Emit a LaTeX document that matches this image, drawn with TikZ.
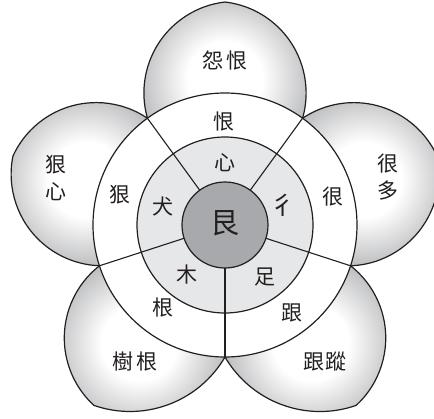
\documentclass[tikz,border=0pt]{standalone}
\usepackage{fontspec}
\newfontfamily\cjk{Noto Sans CJK TC}
\definecolor{ink}{HTML}{231F20}
\definecolor{ringgray}{HTML}{E6E7E8}
\definecolor{coregray}{HTML}{A7A9AC}
\definecolor{petaledge}{HTML}{B3B4B6}
\pgfdeclareradialshading{petalshade}{\pgfpoint{0bp}{0bp}}{color(0bp)=(white); color(10bp)=(white); color(25bp)=(petaledge); color(50bp)=(petaledge)}
\begin{document}
\begin{tikzpicture}[x=1pt,y=1pt,
  txt/.style={font=\cjk\fontsize{21}{27}\selectfont, text=ink, inner sep=0pt, align=center},
  bigtxt/.style={font=\cjk\fontsize{29}{30}\selectfont, text=ink, inner sep=0pt},
  outline/.style={draw=ink, line width=1.2pt},
  divider/.style={draw=ink, line width=1.1pt}]
\useasboundingbox (-225,-193) rectangle (209,225);
% petals: direction / first arc (start, end, radius) / second arc (start, end, radius)
\foreach \a/\sa/\ea/\ra/\sb/\eb/\rb in {
    90/-15.97/83.42/91.6/96.58/195.97/91.6,
    18/-87.97/11.42/91.6/24.58/123.97/91.6,
    162/56.03/155.42/91.6/168.58/267.97/91.6,
    234/128.03/227.42/91.6/250.82/329.71/110,
    306/210.29/289.18/110/312.58/411.97/91.6}{
  \begin{scope}
    \clip ({\a-36}:132) arc[start angle=\sa, end angle=\ea, radius=\ra]
          arc[start angle=\sb, end angle=\eb, radius=\rb] -- cycle;
    \shade[shading=petalshade] (\a:146) circle (94);
  \end{scope}
  \draw[outline] ({\a-36}:132) arc[start angle=\sa, end angle=\ea, radius=\ra]
          arc[start angle=\sb, end angle=\eb, radius=\rb] -- cycle;
}
% rings
\filldraw[fill=white, outline] (0,0) circle (132);
\filldraw[fill=ringgray, outline] (0,0) circle (88);
\foreach \a in {270,342,54,126,198}{
  \coordinate (in\a) at (\a:43);
  \coordinate (out\a) at (\a:132);
  \draw[divider] (in\a) -- (out\a);
}
\filldraw[fill=coregray, outline] (0,0) circle (43);
% texts
\node[bigtxt] (core) at (0,2) {艮};
\node[txt] (ringtop) at (-1,103) {恨};
\node[txt] (ringleft) at (-105,30) {狠};
\node[txt] (ringright) at (108,28) {很};
\node[txt] (ringbl) at (-62,-83) {根};
\node[txt] (ringbr) at (67,-88) {跟};
\node[txt] (intop) at (0,62) {心};
\node[txt] (inleft) at (-62,18) {犬};
\node[txt, font=\cjk\fontsize{25}{27}\selectfont] (inright) at (58,20) {彳};
\node[txt] (inbl) at (-38,-50) {木};
\node[txt] (inbr) at (40,-52) {足};
\node[txt] (ptop) at (0,165) {怨\hspace{3pt}恨};
\node[txt] (pbl) at (-90,-137) {樹\hspace{3pt}根};
\node[txt] (pbr) at (100,-137) {跟\hspace{2pt}蹤};
\node[txt] (pleft) at (-169,47) {狠\\心};
\node[txt] (pright) at (163,48) {很\\多};
\end{tikzpicture}
\end{document}
